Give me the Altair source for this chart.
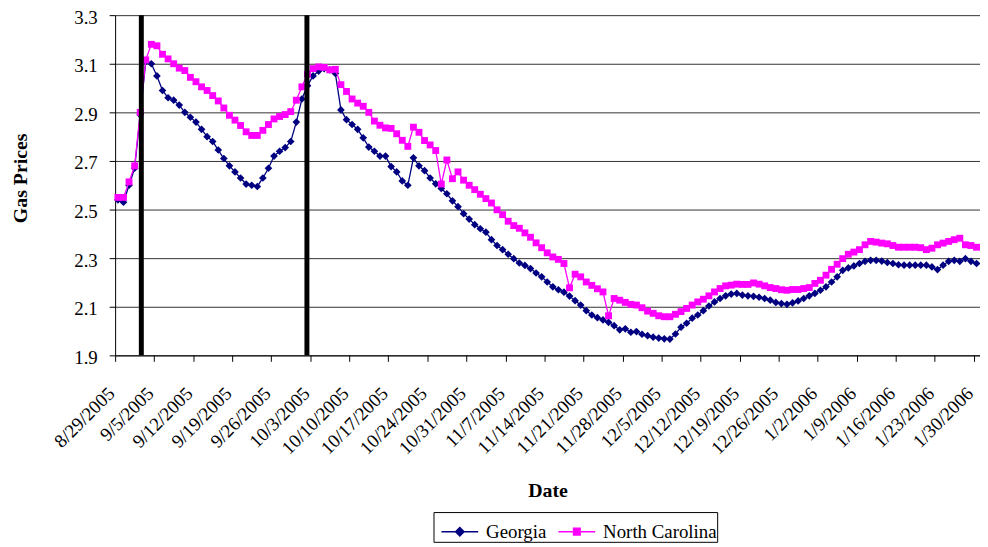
import altair as alt
import pandas as pd

# ---------------- data ----------------
georgia = [
    2.54, 2.53, 2.60, 2.67, 2.89, 3.11, 3.10, 3.05, 2.99, 2.96,
    2.95, 2.93, 2.90, 2.88, 2.86, 2.83, 2.80, 2.78, 2.745, 2.71,
    2.68, 2.655, 2.63, 2.605, 2.60, 2.595, 2.63, 2.67, 2.72, 2.74,
    2.755, 2.78, 2.86, 2.955, 3.01, 3.05, 3.07, 3.08, 3.075, 3.06,
    2.91, 2.87, 2.85, 2.83, 2.795, 2.757, 2.74, 2.72, 2.72, 2.677,
    2.655, 2.618, 2.60, 2.713, 2.68, 2.66, 2.63, 2.606, 2.587, 2.565,
    2.536, 2.512, 2.483, 2.461, 2.438, 2.421, 2.407, 2.376, 2.352, 2.335,
    2.316, 2.298, 2.28, 2.27, 2.257, 2.239, 2.223, 2.202, 2.182, 2.17,
    2.16, 2.144, 2.125, 2.107, 2.084, 2.066, 2.055, 2.046, 2.036, 2.022,
    2.005, 2.009, 1.995, 1.998, 1.987, 1.981, 1.975, 1.971, 1.968, 1.967,
    1.988, 2.016, 2.032, 2.053, 2.066, 2.084, 2.103, 2.12, 2.134, 2.145,
    2.152, 2.155, 2.148, 2.145, 2.143, 2.139, 2.134, 2.127, 2.118, 2.113,
    2.11, 2.116, 2.124, 2.134, 2.145, 2.155, 2.168, 2.182, 2.202, 2.223,
    2.25, 2.26, 2.268, 2.278, 2.287, 2.291, 2.291, 2.288, 2.282, 2.278,
    2.273, 2.271, 2.271, 2.271, 2.271, 2.271, 2.264, 2.253, 2.271, 2.287,
    2.291, 2.287, 2.298, 2.287, 2.278,
]
north_carolina = [
    2.55, 2.55, 2.614, 2.68, 2.90, 3.116, 3.18, 3.174, 3.139, 3.12,
    3.10, 3.082, 3.072, 3.044, 3.026, 3.005, 2.99, 2.969, 2.947, 2.918,
    2.888, 2.868, 2.846, 2.82, 2.805, 2.805, 2.826, 2.85, 2.873, 2.883,
    2.891, 2.903, 2.95, 3.005, 3.057, 3.08, 3.087, 3.085, 3.075, 3.077,
    3.014, 2.986, 2.955, 2.938, 2.925, 2.90, 2.864, 2.847, 2.836, 2.834,
    2.812, 2.785, 2.76, 2.839, 2.818, 2.784, 2.766, 2.743, 2.605, 2.704,
    2.627, 2.655, 2.621, 2.60, 2.582, 2.563, 2.545, 2.527, 2.499, 2.479,
    2.452, 2.434, 2.423, 2.404, 2.386, 2.363, 2.343, 2.322, 2.305, 2.295,
    2.278, 2.178, 2.234, 2.223, 2.202, 2.188, 2.174, 2.161, 2.063, 2.134,
    2.127, 2.118, 2.11, 2.107, 2.096, 2.082, 2.073, 2.063, 2.059, 2.059,
    2.069, 2.08, 2.093, 2.107, 2.12, 2.131, 2.145, 2.161, 2.175, 2.186,
    2.189, 2.193, 2.192, 2.192, 2.198, 2.193, 2.186, 2.179, 2.175, 2.17,
    2.168, 2.171, 2.171, 2.175, 2.179, 2.196, 2.209, 2.23, 2.254, 2.275,
    2.298, 2.316, 2.325, 2.335, 2.355, 2.369, 2.366, 2.362, 2.359, 2.352,
    2.345, 2.345, 2.345, 2.345, 2.343, 2.335, 2.341, 2.355, 2.362, 2.369,
    2.376, 2.382, 2.355, 2.352, 2.345,
]
series_names = ["Georgia", "North Carolina"]
series_colors = ["#000080", "#FF00FF"]
series_shapes = ["diamond", "square"]
series_sizes = [60, 48]
# days since 8/29/2005 (start of day) of the two black markers
event_days = [4.7, 34.4]
event_low = [1.9, 1.9]
event_high = [3.3, 3.3]
tick_labels = [
    "8/29/2005", "9/5/2005", "9/12/2005", "9/19/2005", "9/26/2005",
    "10/3/2005", "10/10/2005", "10/17/2005", "10/24/2005", "10/31/2005",
    "11/7/2005", "11/14/2005", "11/21/2005", "11/28/2005", "12/5/2005",
    "12/12/2005", "12/19/2005", "12/26/2005", "1/2/2006", "1/9/2006",
    "1/16/2006", "1/23/2006", "1/30/2006",
]
y_ticks = [1.9, 2.1, 2.3, 2.5, 2.7, 2.9, 3.1, 3.3]
x_end_day = 155.12

# ---------------- tables ----------------
n = len(georgia)
df = pd.DataFrame({
    "day": [i + 0.5 for i in range(n)] * 2,
    "series": [series_names[0]] * n + [series_names[1]] * n,
    "price": georgia + north_carolina,
})
events = pd.DataFrame({
    "day": event_days,
    "low": event_low,
    "high": event_high,
})
tick_days = [7 * i for i in range(len(tick_labels))]
label_expr = "[" + ",".join("'%s'" % t for t in tick_labels) + "][round(datum.value / 7)]"

FONT = "Liberation Serif"

x_enc = alt.X(
    "day:Q",
    scale=alt.Scale(domain=[0, x_end_day], nice=False, zero=False),
    axis=alt.Axis(
        values=tick_days,
        tickCount=40,
        labelExpr=label_expr,
        labelAngle=-45,
        labelAlign="right",
        labelBaseline="middle",
        labelPadding=29,
        labelOffset=-4,
        labelOverlap=False,
        labelFlush=False,
        labelBound=False,
        labelFont=FONT,
        labelFontSize=19,
        tickSize=6,
        grid=False,
        title="Date",
        titleBaseline="alphabetic",
        titleY=142,
    ),
)
y_enc = alt.Y(
    "price:Q",
    scale=alt.Scale(domain=[1.9, 3.3], nice=False, zero=False),
    axis=alt.Axis(
        values=y_ticks,
        tickCount=20,
        format=".1f",
        tickSize=6,
        labelPadding=12,
        labelOffset=2,
        labelFont=FONT,
        labelFontSize=19,
        grid=True,
        gridColor="#333333",
        gridWidth=1,
        title="Gas Prices",
        titleAngle=270,
        titleBaseline="alphabetic",
        titleX=-89,
        titleY=164,
    ),
)

base = alt.Chart(df)

# legend (drawn from the series scales only; no visible marks)
legend_paths = [
    "M-0.62,0L1.38,0M0.38,-0.23L0.61,0L0.38,0.23L0.15,0Z",
    "M-0.62,0L1.38,0M0.2,-0.18L0.56,-0.18L0.56,0.18L0.2,0.18Z",
]
leg = alt.Legend(
    orient="none", legendX=321, legendY=501, direction="horizontal", title=None,
    strokeColor="black", fillColor="white", padding=0,
    symbolSize=1369, symbolStrokeWidth=1.5, labelOffset=14, columnPadding=4,
    labelFont=FONT, labelFontSize=19, labelColor="black",
)
legend_layer = base.mark_point(filled=True, opacity=1).encode(
    x=x_enc, y=y_enc,
    color=alt.Color("series:N", scale=alt.Scale(domain=series_names, range=series_colors), legend=leg),
    stroke=alt.Stroke("series:N", scale=alt.Scale(domain=series_names, range=series_colors), legend=leg),
    shape=alt.Shape("series:N", scale=alt.Scale(domain=series_names, range=legend_paths), legend=leg),
).transform_filter("false")

layers = [legend_layer]
for name, col, shp, sz in zip(series_names, series_colors, series_shapes, series_sizes):
    sub = base.transform_filter(alt.datum.series == name)
    layers.append(sub.mark_line(color=col, strokeWidth=1.3).encode(x=x_enc, y=y_enc))
    layers.append(sub.mark_point(color=col, shape=shp, size=sz, filled=True, opacity=1).encode(x=x_enc, y=y_enc))

bars = alt.Chart(events).mark_rule(color="black", strokeWidth=5, strokeCap="butt").encode(
    x=alt.X("day:Q"),
    y=alt.Y("low:Q"),
    y2="high:Q",
)
layers.append(bars)

chart = alt.layer(*layers).properties(
    width=872,
    height=343,
    autosize=alt.AutoSizeParams(type="none"),
    padding={"left": 108, "top": 5, "right": 0, "bottom": 191},
    background="white",
).configure_view(stroke=None).configure_axis(
    labelFont=FONT, titleFont=FONT, labelFontSize=19, titleFontSize=20,
    titleFontWeight="bold", labelColor="black", titleColor="black",
    domainColor="black", tickColor="black", domainWidth=1, tickWidth=1,
)

chart.save("out.html", embed_options={"renderer": "svg", "actions": False})
